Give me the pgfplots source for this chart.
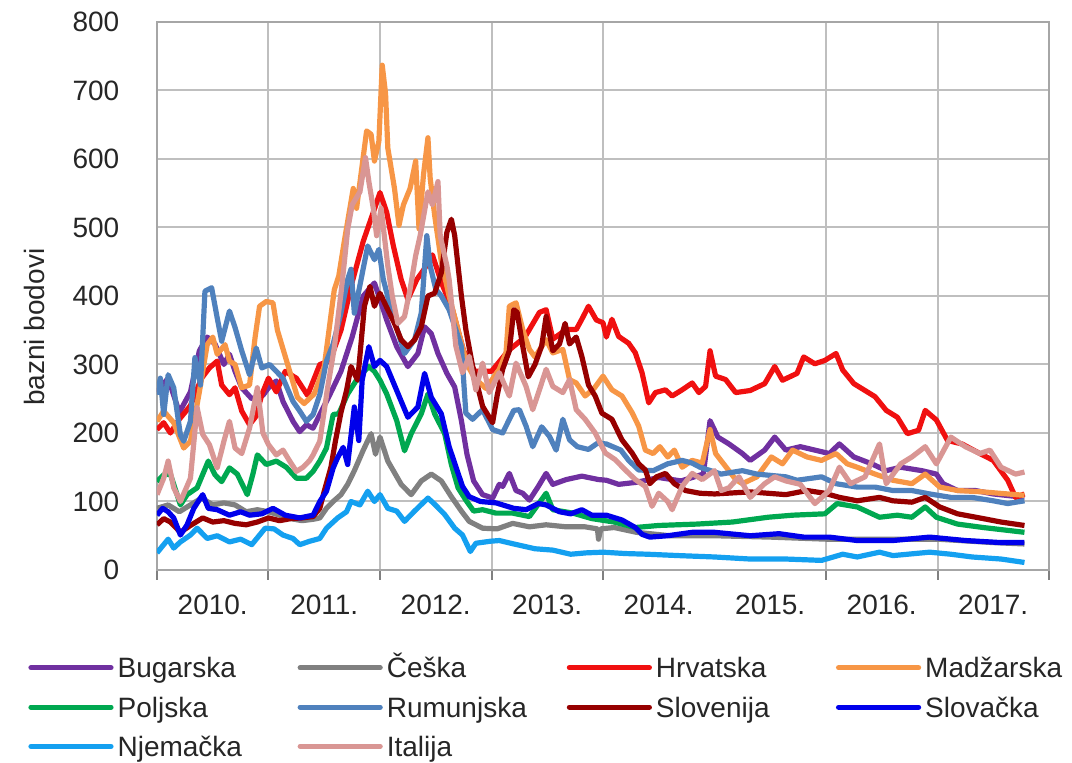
\documentclass[border=0pt]{standalone}
\usepackage{fontspec}
\setmainfont{Liberation Sans}
\usepackage{pgfplots}
\pgfplotsset{compat=1.18}

\definecolor{cBug}{RGB}{112,48,160}
\definecolor{cCes}{RGB}{128,128,128}
\definecolor{cHrv}{RGB}{240,16,16}
\definecolor{cMad}{RGB}{247,150,70}
\definecolor{cPol}{RGB}{0,168,80}
\definecolor{cRum}{RGB}{79,129,189}
\definecolor{cSlo}{RGB}{150,0,0}
\definecolor{cSvk}{RGB}{0,0,235}
\definecolor{cNje}{RGB}{20,160,240}
\definecolor{cIta}{RGB}{217,150,148}

\newcommand\lgd[1]{\makebox[88pt][l]{\rule[-4pt]{0pt}{16pt}#1}}

\begin{document}
\fontsize{14}{16}\selectfont
\begin{tikzpicture}
\begin{axis}[
    at={(0pt,0pt)}, anchor=south west,
    scale only axis,
    width=446pt, height=274pt,
    xmin=2010, xmax=2018,
    ymin=0, ymax=800,
    ytick={0,100,...,800},
    xtick={2010,2011,2012,2013,2014,2016,2017,2018},
    xticklabels={},
    extra x ticks={2010.5,2011.5,2012.5,2013.5,2014.5,2015.5,2016.5,2017.5},
    extra x tick labels={2010.,2011.,2012.,2013.,2014.,2015.,2016.,2017.},
    extra x tick style={xmajorgrids=false, major tick length=0pt},
    xmajorgrids, ymajorgrids,
    grid style={black!25, line width=1pt},
    axis line style={black!35, line width=1pt},
    tick align=outside,
    xtick pos=bottom,
    major tick length=5pt,
    xtick style={black!50, line width=1pt},
    ytick style={draw=none},
    /pgf/number format/assume math mode=true,
    ticklabel style={text=black!85},
    xticklabel style={anchor=center, yshift=-17.5pt},
    yticklabel style={xshift=-9pt},
    ylabel={bazni bodovi},
    ylabel style={at={(rel axis cs:-0.137,0.443)}, anchor=center, text=black!85},
    legend columns=4,
    legend style={at={(rel axis cs:0,0)}, anchor=north west, xshift=-64.5pt, yshift=-41.5pt,
        draw=none, fill=none, inner sep=0pt, column sep=2pt, row sep=5.5pt,
        nodes={inner sep=0pt, text=black!85}},
    legend image code/.code={\draw[#1, line width=2.6pt, line cap=round] (0pt,0pt) -- (40pt,0pt);},
    every axis plot/.append style={line width=2.6pt, line join=round},
]
\addplot[cBug] coordinates {
(2010.00,260)(2010.10,280)(2010.20,230)(2010.30,260)(2010.38,320)(2010.45,340)(2010.52,330)(2010.60,300)
(2010.65,315)(2010.70,290)(2010.76,266)(2010.85,250)(2010.95,255)(2011.00,266)(2011.07,276)(2011.13,246)
(2011.22,217)(2011.28,202)(2011.34,212)(2011.40,207)(2011.46,227)(2011.55,256)(2011.65,290)(2011.75,340)
(2011.85,400)(2011.95,419)(2012.00,395)(2012.06,365)(2012.15,326)(2012.25,297)(2012.34,316)(2012.40,355)
(2012.46,345)(2012.52,316)(2012.60,287)(2012.67,267)(2012.73,218)(2012.78,169)(2012.84,130)(2012.92,110)
(2013.01,105)(2013.07,125)(2013.10,122)(2013.16,141)(2013.22,116)(2013.28,112)(2013.34,102)(2013.42,122)
(2013.49,141)(2013.55,125)(2013.67,132)(2013.81,137)(2013.96,132)(2014.03,131)(2014.14,125)(2014.30,128)
(2014.50,135)(2014.70,130)(2014.90,140)(2014.96,218)(2015.03,194)(2015.13,184)(2015.25,170)(2015.32,160)
(2015.45,175)(2015.54,194)(2015.64,175)(2015.77,180)(2015.90,175)(2016.03,170)(2016.12,184)(2016.25,165)
(2016.41,155)(2016.54,145)(2016.67,150)(2016.86,145)(2016.99,140)(2017.05,126)(2017.18,116)(2017.34,116)
(2017.50,111)(2017.78,106)};
\addlegendentry{\lgd{Bugarska}}
\addplot[cCes] coordinates {
(2010.00,90)(2010.10,95)(2010.20,85)(2010.30,95)(2010.40,105)(2010.50,95)(2010.60,98)(2010.70,95)
(2010.80,85)(2010.90,88)(2011.00,85)(2011.10,80)(2011.20,75)(2011.30,72)(2011.40,74)(2011.46,76)
(2011.52,90)(2011.58,100)(2011.65,110)(2011.71,125)(2011.77,145)(2011.85,175)(2011.92,199)(2011.96,169)
(2012.00,194)(2012.07,159)(2012.19,125)(2012.28,110)(2012.37,130)(2012.46,140)(2012.55,130)(2012.64,107)
(2012.73,86)(2012.80,71)(2012.92,61)(2013.05,60)(2013.19,68)(2013.34,63)(2013.49,66)(2013.67,63)
(2013.84,63)(2013.95,60)(2013.96,45)(2013.98,60)(2014.10,62)(2014.30,55)(2014.60,50)(2015.00,50)
(2015.50,48)(2016.00,45)(2016.50,45)(2017.00,45)(2017.50,40)(2017.78,38)};
\addlegendentry{\lgd{Češka}}
\addplot[cHrv] coordinates {
(2010.00,205)(2010.06,215)(2010.12,200)(2010.20,220)(2010.30,240)(2010.40,280)(2010.47,295)(2010.54,305)
(2010.58,270)(2010.65,256)(2010.70,266)(2010.76,232)(2010.83,212)(2010.89,225)(2010.94,256)(2011.00,280)
(2011.07,260)(2011.15,290)(2011.25,280)(2011.35,255)(2011.46,300)(2011.55,305)(2011.65,350)(2011.75,420)
(2011.85,480)(2011.95,527)(2012.00,551)(2012.06,522)(2012.12,473)(2012.19,424)(2012.25,395)(2012.33,424)
(2012.40,440)(2012.47,460)(2012.55,420)(2012.65,380)(2012.75,320)(2012.85,290)(2013.00,290)(2013.15,320)
(2013.30,340)(2013.43,376)(2013.49,380)(2013.55,337)(2013.67,351)(2013.76,351)(2013.81,366)(2013.87,385)
(2013.94,365)(2014.00,361)(2014.03,340)(2014.08,366)(2014.14,341)(2014.23,331)(2014.29,317)(2014.35,288)
(2014.41,244)(2014.47,259)(2014.56,263)(2014.62,254)(2014.71,263)(2014.80,273)(2014.86,259)(2014.92,268)
(2014.96,320)(2015.01,283)(2015.10,278)(2015.19,259)(2015.32,262)(2015.45,272)(2015.54,297)(2015.61,277)
(2015.74,287)(2015.80,311)(2015.90,301)(2015.99,306)(2016.09,316)(2016.15,292)(2016.25,272)(2016.35,262)
(2016.44,253)(2016.54,233)(2016.64,223)(2016.73,199)(2016.83,204)(2016.89,233)(2016.99,219)(2017.09,189)
(2017.22,184)(2017.38,170)(2017.50,160)(2017.63,131)(2017.70,106)(2017.78,111)};
\addlegendentry{\lgd{Hrvatska}}
\addplot[cMad] coordinates {
(2010.00,217)(2010.06,232)(2010.15,215)(2010.24,178)(2010.30,188)(2010.38,260)(2010.45,329)(2010.50,340)
(2010.54,315)(2010.61,329)(2010.65,305)(2010.70,300)(2010.76,266)(2010.83,270)(2010.88,340)(2010.92,385)
(2010.98,392)(2011.04,390)(2011.08,350)(2011.17,301)(2011.26,252)(2011.32,243)(2011.41,257)(2011.50,297)
(2011.59,409)(2011.63,429)(2011.68,480)(2011.76,557)(2011.79,528)(2011.88,641)(2011.92,636)(2011.95,597)
(2011.99,626)(2012.02,737)(2012.05,695)(2012.07,616)(2012.13,557)(2012.17,503)(2012.21,533)(2012.27,557)
(2012.32,597)(2012.35,498)(2012.39,577)(2012.43,631)(2012.45,572)(2012.49,518)(2012.55,450)(2012.62,400)
(2012.70,350)(2012.78,300)(2012.85,280)(2012.95,265)(2013.07,293)(2013.13,317)(2013.16,385)(2013.22,390)
(2013.28,351)(2013.34,322)(2013.39,311)(2013.49,336)(2013.55,317)(2013.64,322)(2013.70,278)(2013.76,273)
(2013.84,254)(2013.92,265)(2014.00,283)(2014.08,263)(2014.17,254)(2014.26,230)(2014.32,210)(2014.38,175)
(2014.45,170)(2014.51,180)(2014.58,165)(2014.64,175)(2014.71,150)(2014.80,160)(2014.89,156)(2014.96,205)
(2015.01,170)(2015.10,151)(2015.19,132)(2015.25,126)(2015.38,136)(2015.51,165)(2015.61,155)(2015.70,175)
(2015.83,165)(2015.96,160)(2016.09,170)(2016.19,155)(2016.28,150)(2016.44,140)(2016.60,131)(2016.77,126)
(2016.89,140)(2017.02,121)(2017.18,116)(2017.41,114)(2017.63,111)(2017.78,109)};
\addlegendentry{\lgd{Madžarska}}
\addplot[cPol] coordinates {
(2010.00,129)(2010.06,139)(2010.12,140)(2010.21,95)(2010.27,110)(2010.36,120)(2010.46,159)(2010.52,139)
(2010.58,129)(2010.65,149)(2010.72,140)(2010.81,110)(2010.86,140)(2010.90,168)(2010.98,154)(2011.07,159)
(2011.16,150)(2011.25,134)(2011.34,134)(2011.40,144)(2011.46,159)(2011.52,178)(2011.58,227)(2011.63,228)
(2011.71,257)(2011.80,280)(2011.90,297)(2011.95,290)(2012.00,277)(2012.06,257)(2012.15,218)(2012.22,174)
(2012.28,199)(2012.37,228)(2012.43,257)(2012.49,228)(2012.58,199)(2012.64,154)(2012.70,120)(2012.77,102)
(2012.84,86)(2012.92,88)(2013.04,83)(2013.19,83)(2013.34,78)(2013.49,112)(2013.55,88)(2013.73,83)
(2013.90,75)(2014.10,70)(2014.29,62)(2014.50,65)(2014.84,67)(2015.16,70)(2015.48,77)(2015.70,80)
(2015.99,82)(2016.10,97)(2016.28,92)(2016.48,77)(2016.64,80)(2016.77,77)(2016.89,92)(2016.99,77)
(2017.18,67)(2017.41,62)(2017.78,55)};
\addlegendentry{\lgd{Poljska}}
\addplot[cRum] coordinates {
(2010.00,256)(2010.03,280)(2010.06,227)(2010.10,285)(2010.15,266)(2010.21,197)(2010.24,188)(2010.30,217)
(2010.34,310)(2010.39,270)(2010.43,407)(2010.49,412)(2010.54,368)(2010.58,334)(2010.65,378)(2010.70,354)
(2010.76,320)(2010.83,285)(2010.89,324)(2010.94,295)(2011.01,300)(2011.07,290)(2011.13,280)(2011.22,246)
(2011.28,232)(2011.34,217)(2011.40,227)(2011.46,256)(2011.52,305)(2011.58,330)(2011.65,375)(2011.71,424)
(2011.74,439)(2011.77,375)(2011.83,424)(2011.89,473)(2011.95,453)(2011.99,468)(2012.03,424)(2012.10,380)
(2012.22,316)(2012.31,336)(2012.37,375)(2012.42,488)(2012.45,444)(2012.50,410)(2012.55,400)(2012.62,380)
(2012.68,351)(2012.73,326)(2012.77,229)(2012.83,220)(2012.92,234)(2013.01,205)(2013.10,200)(2013.16,220)
(2013.20,233)(2013.25,234)(2013.31,210)(2013.37,180)(2013.45,209)(2013.52,195)(2013.58,175)(2013.64,220)
(2013.70,190)(2013.77,180)(2013.87,176)(2013.95,185)(2014.03,184)(2014.16,175)(2014.23,160)(2014.32,146)
(2014.45,145)(2014.58,155)(2014.71,160)(2014.80,156)(2014.87,150)(2015.06,140)(2015.25,145)(2015.38,140)
(2015.64,136)(2015.74,131)(2015.96,136)(2016.09,126)(2016.28,121)(2016.44,121)(2016.60,116)(2016.77,116)
(2016.93,111)(2017.12,106)(2017.31,106)(2017.50,101)(2017.63,97)(2017.78,101)};
\addlegendentry{\lgd{Rumunjska}}
\addplot[cSlo] coordinates {
(2010.00,66)(2010.06,75)(2010.12,70)(2010.21,55)(2010.30,65)(2010.41,76)(2010.50,70)(2010.60,72)
(2010.70,68)(2010.80,66)(2010.90,70)(2011.00,76)(2011.10,72)(2011.20,75)(2011.30,76)(2011.40,78)
(2011.46,90)(2011.50,115)(2011.56,150)(2011.60,188)(2011.65,230)(2011.70,262)(2011.74,297)(2011.80,277)
(2011.86,385)(2011.91,414)(2011.95,385)(2012.00,404)(2012.07,380)(2012.13,360)(2012.19,336)(2012.25,326)
(2012.31,336)(2012.37,355)(2012.43,400)(2012.49,404)(2012.55,434)(2012.60,493)(2012.64,512)(2012.67,488)
(2012.73,400)(2012.77,351)(2012.83,298)(2012.92,239)(2013.01,215)(2013.05,254)(2013.10,293)(2013.16,320)
(2013.20,380)(2013.23,376)(2013.28,327)(2013.33,282)(2013.39,300)(2013.45,327)(2013.49,370)(2013.55,320)
(2013.61,330)(2013.66,360)(2013.70,330)(2013.76,340)(2013.81,312)(2013.87,270)(2013.93,254)(2013.99,229)
(2014.08,220)(2014.17,190)(2014.26,171)(2014.32,155)(2014.38,146)(2014.42,126)(2014.48,136)(2014.56,141)
(2014.64,126)(2014.74,116)(2014.87,112)(2015.00,111)(2015.32,114)(2015.64,110)(2015.83,116)(2015.99,112)
(2016.12,106)(2016.28,101)(2016.48,106)(2016.60,101)(2016.77,99)(2016.89,106)(2017.02,92)(2017.18,82)
(2017.41,75)(2017.57,70)(2017.78,65)};
\addlegendentry{\lgd{Slovenija}}
\addplot[cSvk] coordinates {
(2010.00,80)(2010.05,90)(2010.10,85)(2010.15,76)(2010.21,51)(2010.27,66)(2010.33,90)(2010.41,110)
(2010.46,90)(2010.54,88)(2010.65,80)(2010.75,85)(2010.83,80)(2010.94,82)(2011.04,90)(2011.15,80)
(2011.28,76)(2011.40,80)(2011.46,100)(2011.52,115)(2011.58,149)(2011.62,164)(2011.67,179)(2011.71,154)
(2011.77,238)(2011.81,189)(2011.84,277)(2011.90,326)(2011.95,297)(2012.00,306)(2012.06,297)(2012.15,262)
(2012.25,223)(2012.34,238)(2012.40,287)(2012.46,252)(2012.55,228)(2012.62,180)(2012.68,151)(2012.74,122)
(2012.80,107)(2012.90,100)(2013.04,98)(2013.20,90)(2013.31,88)(2013.42,97)(2013.49,95)(2013.61,85)
(2013.71,82)(2013.81,88)(2013.90,80)(2014.03,80)(2014.17,73)(2014.29,62)(2014.35,52)(2014.42,48)
(2014.58,50)(2014.80,55)(2015.00,55)(2015.32,50)(2015.58,53)(2015.80,48)(2016.03,48)(2016.28,43)
(2016.60,43)(2016.93,48)(2017.25,43)(2017.57,40)(2017.78,40)};
\addlegendentry{\lgd{Slovačka}}
\addplot[cNje] coordinates {
(2010.00,25)(2010.05,35)(2010.10,45)(2010.15,32)(2010.21,41)(2010.30,51)(2010.36,61)(2010.45,46)
(2010.54,50)(2010.65,41)(2010.75,45)(2010.85,37)(2010.97,61)(2011.05,60)(2011.13,51)(2011.22,46)
(2011.28,37)(2011.37,42)(2011.46,46)(2011.52,61)(2011.62,76)(2011.70,85)(2011.74,100)(2011.82,95)
(2011.89,115)(2011.95,100)(2012.00,110)(2012.07,90)(2012.15,86)(2012.22,71)(2012.31,86)(2012.43,105)
(2012.49,96)(2012.58,81)(2012.67,61)(2012.74,51)(2012.81,27)(2012.86,39)(2012.99,42)(2013.07,43)
(2013.20,38)(2013.39,31)(2013.55,29)(2013.71,23)(2013.85,25)(2014.00,26)(2014.20,24)(2014.40,23)
(2014.68,21)(2015.00,19)(2015.32,16)(2015.64,16)(2015.96,14)(2016.15,23)(2016.28,19)(2016.48,26)
(2016.60,21)(2016.93,26)(2017.12,23)(2017.31,19)(2017.57,16)(2017.78,11)};
\addlegendentry{\lgd{Njemačka}}
\addplot[cIta] coordinates {
(2010.00,110)(2010.06,134)(2010.10,159)(2010.15,120)(2010.21,100)(2010.30,134)(2010.36,237)(2010.41,198)
(2010.47,183)(2010.54,149)(2010.60,188)(2010.65,217)(2010.70,178)(2010.76,170)(2010.83,207)(2010.90,266)
(2010.95,200)(2011.00,183)(2011.07,168)(2011.13,175)(2011.19,159)(2011.25,144)(2011.31,150)(2011.37,160)
(2011.40,168)(2011.46,188)(2011.53,266)(2011.59,324)(2011.65,404)(2011.68,449)(2011.71,497)(2011.75,533)
(2011.82,552)(2011.87,602)(2011.90,567)(2011.94,528)(2011.97,488)(2012.01,528)(2012.07,444)(2012.11,400)
(2012.16,360)(2012.22,370)(2012.27,410)(2012.32,459)(2012.36,488)(2012.43,552)(2012.47,533)(2012.52,567)
(2012.54,488)(2012.60,444)(2012.62,424)(2012.66,360)(2012.68,327)(2012.74,288)(2012.80,312)(2012.86,263)
(2012.92,302)(2012.98,259)(2013.07,288)(2013.16,254)(2013.22,302)(2013.31,268)(2013.37,234)(2013.43,263)
(2013.49,293)(2013.55,268)(2013.64,259)(2013.70,278)(2013.76,234)(2013.84,220)(2013.93,200)(2014.02,171)
(2014.11,161)(2014.20,146)(2014.29,132)(2014.38,122)(2014.44,93)(2014.50,112)(2014.58,100)(2014.62,88)
(2014.71,122)(2014.80,141)(2014.89,132)(2015.00,145)(2015.06,116)(2015.13,120)(2015.22,136)(2015.32,106)
(2015.45,126)(2015.54,136)(2015.64,130)(2015.77,125)(2015.90,97)(2016.03,116)(2016.12,150)(2016.22,126)
(2016.35,136)(2016.48,184)(2016.54,126)(2016.67,155)(2016.77,165)(2016.89,180)(2016.99,155)(2017.12,194)
(2017.25,180)(2017.38,170)(2017.47,175)(2017.57,150)(2017.70,140)(2017.78,143)};
\addlegendentry{\lgd{Italija}}
\end{axis}
\pgfresetboundingbox
\path[use as bounding box] (-78.5pt,-96.5pt) rectangle (457.5pt,285pt);
\end{tikzpicture}
\end{document}
